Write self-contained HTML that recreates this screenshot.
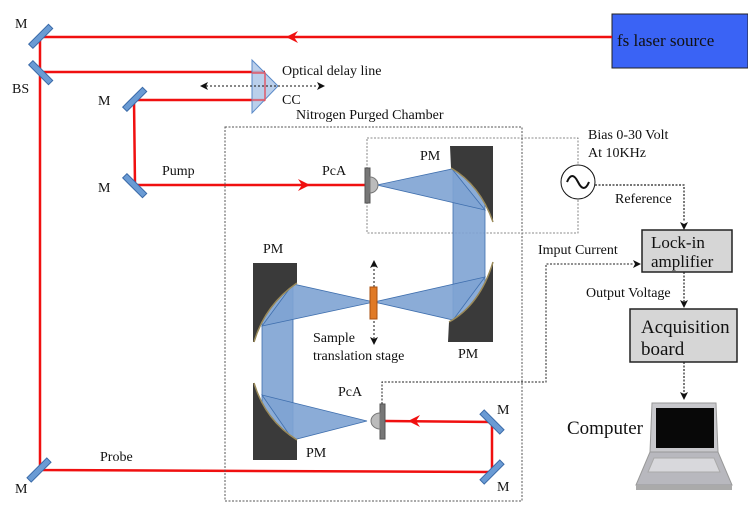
<!DOCTYPE html>
<html><head><meta charset="utf-8"><style>
body{margin:0;background:#fff}
svg{display:block}
svg text{font-family:"Liberation Serif","Times New Roman",serif !important;fill:#111}
</style></head><body>
<svg width="748" height="523" viewBox="0 0 748 523" xmlns="http://www.w3.org/2000/svg" font-family="Liberation Serif, serif">
<!-- laser -->
<rect x="612" y="14" width="136" height="54" fill="#3a63f5" stroke="#222" stroke-width="1"/>
<text x="617" y="46" font-size="17">fs laser source</text>
<!-- red beams -->
<g stroke="#f01010" stroke-width="2.5" fill="none">
<path d="M612,37 L40,37 L40,470 L492,472 L492,422 L385,421"/>
<path d="M40,72 L265,72"/>
<path d="M265,100 L134,100 L135,185 L365,185"/>
</g>
<g fill="#f01010">
<path d="M286,37 l12,-6 l-4,6 l4,6z"/>
<path d="M310,185 l-12,-6 l4,6 l-4,6z"/>
<path d="M408,421 l12,-6 l-4,6 l4,6z"/>
</g>
<!-- mirrors -->
<g fill="#6a9bd4" stroke="#3a6aa8" stroke-width="1">
<rect x="27" y="34" width="28" height="6" transform="rotate(-45 40 37)"/>
<rect x="27" y="69" width="28" height="6" transform="rotate(45 40 72)"/>
<rect x="121" y="97" width="28" height="6" transform="rotate(-45 134 100)"/>
<rect x="121" y="182" width="28" height="6" transform="rotate(45 134 185)"/>
<rect x="25" y="467" width="28" height="6" transform="rotate(-45 39 470)"/>
<rect x="478" y="419" width="28" height="6" transform="rotate(45 492 422)"/>
<rect x="478" y="469" width="28" height="6" transform="rotate(-45 492 472)"/>
</g>
<text x="15" y="28" font-size="14">M</text>
<text x="12" y="93" font-size="14">BS</text>
<text x="98" y="105" font-size="14">M</text>
<text x="98" y="192" font-size="14">M</text>
<text x="15" y="493" font-size="14">M</text>
<text x="497" y="414" font-size="14">M</text>
<text x="497" y="491" font-size="14">M</text>
<!-- CC -->
<path d="M252,60 L278,86 L252,113z" fill="#a9c3e6" fill-opacity="0.8" stroke="#5a8ac8"/>
<path d="M252,73 L265,73 L265,100 L252,100" stroke="#e05a6a" stroke-width="1.5" fill="none"/>
<line x1="206" y1="86" x2="318" y2="86" stroke="#111" stroke-dasharray="2,2"/>
<path d="M200,86 l8,-4 l-2,4 l2,4z M325,86 l-8,-4 l2,4 l-2,4z" fill="#111"/>
<text x="282" y="75" font-size="14">Optical delay line</text>
<text x="282" y="104" font-size="14">CC</text>
<text x="162" y="175" font-size="14">Pump</text>
<text x="100" y="461" font-size="14">Probe</text>
<text x="322" y="175" font-size="14">PcA</text>
<!-- chamber -->
<rect x="225" y="127" width="297" height="374" fill="none" stroke="#555" stroke-dasharray="2,1.5"/>
<text x="296" y="119" font-size="14">Nitrogen Purged Chamber</text>
<rect x="367" y="138" width="211" height="95" fill="none" stroke="#666" stroke-dasharray="2,1.5" stroke-width="0.8"/>
<!-- blue beams -->
<g fill="#7ea3d3" fill-opacity="0.9" stroke="#3f6fae" stroke-width="0.8">
<rect x="453" y="170" width="32" height="150"/>
<rect x="262" y="284" width="31" height="156"/>
<path d="M377,185 L452,169 L485,210z"/>
<path d="M374,302 L485,277 L453,320z"/>
<path d="M374,302 L293,284 L262,326z"/>
<path d="M367,421 L262,395 L293,440z"/>
</g>
<!-- PM blocks -->
<g fill="#3a3a3a">
<path d="M450,146 L493,146 L493,222 Q480,185 451,168z"/>
<path d="M448,342 L493,342 L493,262 Q480,305 449,322z"/>
<path d="M253,263 L297,263 L297,283 Q265,305 254,342 L253,342z"/>
<path d="M253,460 L297,460 L297,440 Q265,420 254,383 L253,383z"/>
</g>
<g fill="none" stroke="#9a8a5a" stroke-width="1.5">
<path d="M451,168 Q480,185 493,222"/>
<path d="M449,322 Q480,305 493,262"/>
<path d="M297,283 Q265,305 254,342"/>
<path d="M297,440 Q265,420 254,383"/>
</g>
<!-- PcAs -->
<rect x="365" y="168" width="5" height="35" fill="#777" stroke="#555"/>
<path d="M370,177 a8,8 0 0 1 0,16z" fill="#bbb" stroke="#777"/>
<rect x="380" y="404" width="5" height="35" fill="#777" stroke="#555"/>
<path d="M380,413 a9,8 0 0 0 0,16z" fill="#bbb" stroke="#777"/>
<text x="338" y="396" font-size="14">PcA</text>
<!-- sample -->
<line x1="374" y1="265" x2="374" y2="340" stroke="#111" stroke-dasharray="2,2"/>
<path d="M374,260 l-4,8 l4,-2 l4,2z M374,345 l-4,-8 l4,2 l4,-2z" fill="#111"/>
<rect x="370" y="287" width="7" height="32" fill="#e07a26" stroke="#a85010"/>
<text x="313" y="342" font-size="14">Sample</text>
<text x="313" y="360" font-size="14">translation stage</text>
<text x="420" y="160" font-size="14">PM</text>
<text x="263" y="253" font-size="14">PM</text>
<text x="458" y="358" font-size="14">PM</text>
<text x="306" y="457" font-size="14">PM</text>
<!-- source -->
<circle cx="578" cy="182" r="17" fill="#fff" stroke="#111"/>
<path d="M567,182 Q572,170 578,182 Q584,194 589,182" fill="none" stroke="#111" stroke-width="2"/>
<text x="588" y="139" font-size="14">Bias 0-30 Volt</text>
<text x="588" y="157" font-size="14">At 10KHz</text>
<!-- signal lines -->
<g stroke="#222" stroke-dasharray="2,1.5" fill="none">
<path d="M595,185 L684,185 L684,222" stroke-width="1.2"/>
<path d="M382,404 L382,382 L546,382 L546,264 L634,264" stroke-width="1"/>
<path d="M684,272 L684,302" stroke-width="1.2"/>
<path d="M684,362 L684,395" stroke-width="1.2"/>
</g>
<path d="M684,230 l-4,-8 l4,2 l4,-2z M641,264 l-8,-4 l2,4 l-2,4z M684,308 l-4,-8 l4,2 l4,-2z M684,400 l-4,-8 l4,2 l4,-2z" fill="#111"/>
<text x="615" y="203" font-size="14">Reference</text>
<text x="538" y="254" font-size="14">Imput Current</text>
<text x="586" y="297" font-size="14">Output Voltage</text>
<rect x="642" y="230" width="90" height="42" fill="#d6d6d6" stroke="#222" stroke-width="1.5"/>
<text x="651" y="248" font-size="17">Lock-in</text>
<text x="651" y="267" font-size="17">amplifier</text>
<rect x="630" y="309" width="107" height="53" fill="#d6d6d6" stroke="#222" stroke-width="1.5"/>
<text x="641" y="333" font-size="19">Acquisition</text>
<text x="641" y="355" font-size="19">board</text>
<text x="567" y="434" font-size="19">Computer</text>
<!-- laptop -->
<path d="M652,403 L716,403 L718,452 L650,452z" fill="#c8c8cc" stroke="#999"/>
<rect x="656" y="408" width="58" height="40" fill="#080808"/>
<path d="M650,452 L718,452 L732,485 L636,485z" fill="#b8b8be" stroke="#999"/>
<path d="M654,458 L714,458 L720,472 L648,472z" fill="#d8d8dc" stroke="#aaa"/>
<rect x="636" y="485" width="96" height="5" fill="#aaa"/>
</svg>
</body></html>
